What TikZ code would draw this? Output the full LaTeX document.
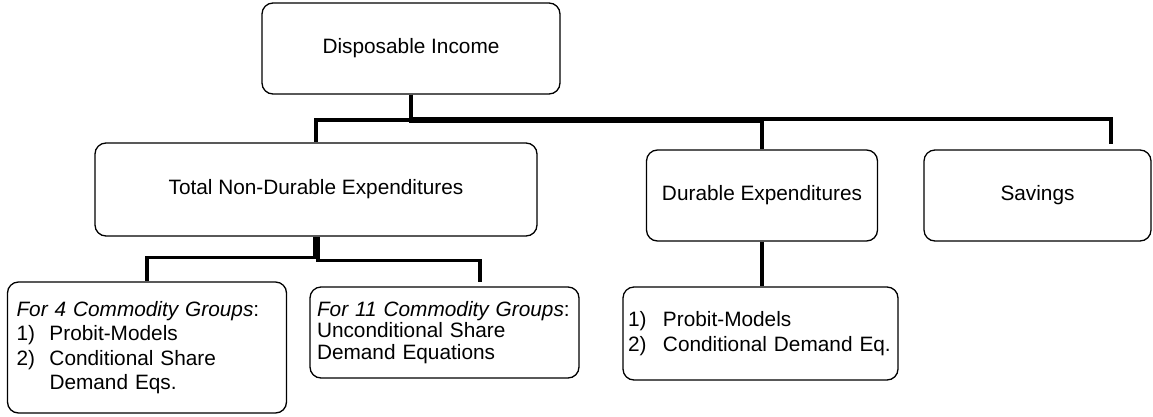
\documentclass[tikz,border=0pt]{standalone}
\usepackage{fontspec}
\setmainfont{Liberation Sans}
\begin{document}
\begin{tikzpicture}[x=1pt,y=-1pt,
  box/.style={draw=black,line width=1.3pt,rounded corners=11pt,rectangle,inner sep=0pt,fill=white,
    font=\fontsize{20.8}{24.5}\selectfont},
  conn/.style={draw=black,line width=3.5pt,line cap=butt,line join=miter}]
\useasboundingbox (0,0) rectangle (1153,416);
% connectors first
\coordinate (hS) at (1111,119);
\coordinate (hD) at (762,121.5);
\coordinate (hT) at (316,120);
\coordinate (hF4) at (147,257.5);
\coordinate (hF11) at (480,260.5);
% boxes
\node[box,minimum width=298pt,minimum height=91pt] (DI) at (411,48.5) {Disposable Income};
\node[box,minimum width=442pt,minimum height=93pt] (TNDE) at (316,189.5) {Total Non-Durable Expenditures};
\node[box,minimum width=231pt,minimum height=91pt] (Dur) at (762,195.5) {Durable Expenditures};
\node[box,minimum width=227pt,minimum height=91pt] (Sav) at (1037.5,195.5) {Savings};
\node[box,minimum width=279pt,minimum height=131pt,text width=261pt,inner xsep=9pt,align=left] (F4) at (147,347.5)
  {\textit{For 4 Commodity Groups}:\\
   \makebox[33pt][l]{1)}Probit-Models\\
   \makebox[33pt][l]{2)}Conditional Share\\
   \hspace*{33pt}Demand Eqs.};
\node[box,minimum width=269pt,minimum height=91pt,text width=255pt,inner xsep=7pt,align=left,
  font=\fontsize{20.8}{21.8}\selectfont] (F11) at (444.5,332.5)
  {\textit{For 11 Commodity Groups}:\\
   Unconditional Share\\
   Demand Equations};
\node[box,minimum width=275pt,minimum height=93pt,text width=265pt,inner xsep=5pt,align=left,
  font=\fontsize{20.8}{25}\selectfont] (DL) at (760.5,333.5)
  {\makebox[35pt][l]{1)}Probit-Models\\
   \makebox[35pt][l]{2)}Conditional Demand Eq.};
% connectors
\draw[conn] (DI.south) |- (hS) -- ([xshift=73.5pt,yshift=5pt]Sav.north);
\draw[conn] (DI.south) |- (hT) -- (TNDE.north);
\draw[conn] (DI.south) |- (hD) -- (Dur.north);
\draw[conn] ([xshift=-1.5pt]TNDE.south) |- (hF4) -- (F4.north);
\draw[conn] ([xshift=2pt]TNDE.south) |- (hF11) -- ([xshift=35.5pt,yshift=4pt]F11.north);
\draw[conn] (Dur.south) -- (Dur.south |- DL.north);
\end{tikzpicture}
\end{document}
